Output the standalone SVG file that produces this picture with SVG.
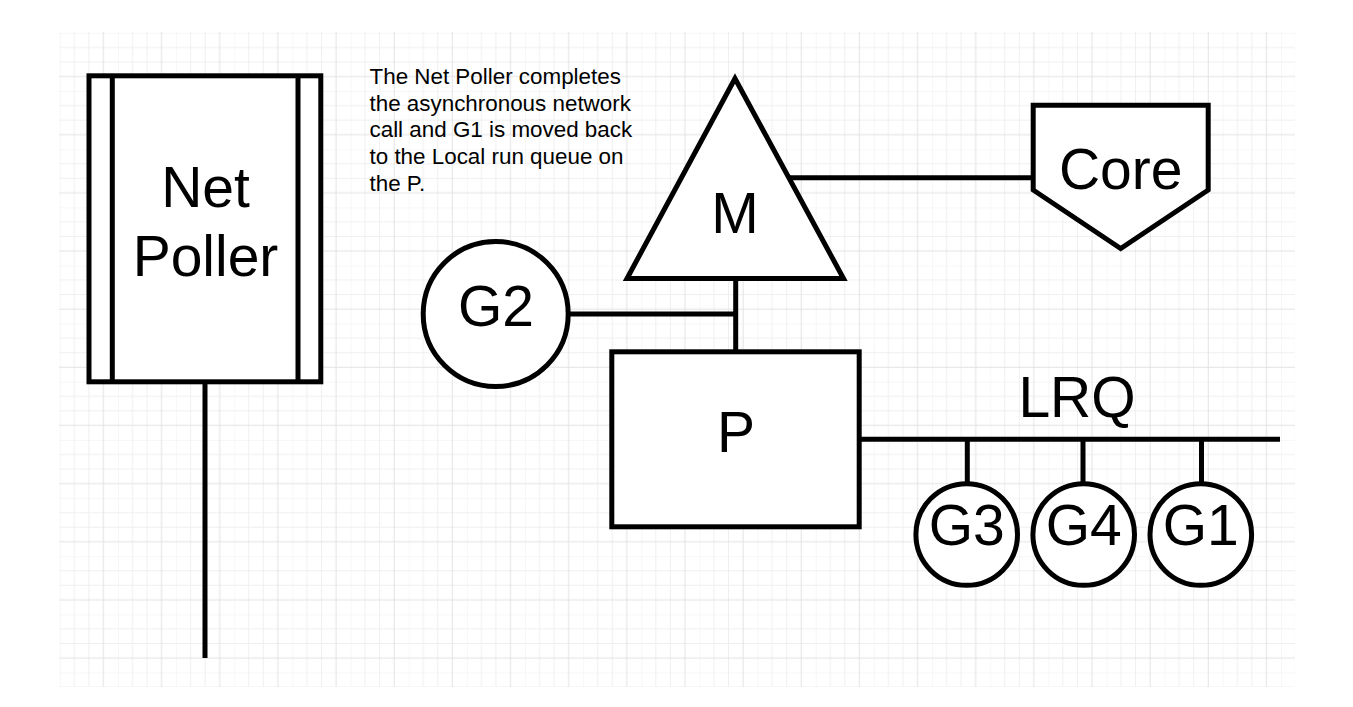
<svg xmlns="http://www.w3.org/2000/svg" width="1353" height="707" viewBox="0 0 1353 707">
  <defs>
    <pattern id="grid" patternUnits="userSpaceOnUse" x="59.8" y="32.9" width="58.15" height="58.15">
      <path d="M0 0V58.15M14.54 0V58.15M29.08 0V58.15M0 0H58.15M0 14.54H58.15M0 29.08H58.15" stroke="#efefef" stroke-width="1" fill="none"/>
      <path d="M43.61 0V58.15M0 43.61H58.15" stroke="#e2e2e2" stroke-width="1" fill="none"/>
    </pattern>
    <style>
      .shape { fill: #ffffff; stroke: #000000; stroke-width: 5; stroke-linejoin: miter; }
      .line { fill: none; stroke: #000000; stroke-width: 5; }
      .big { font-family: "Liberation Sans", Arial, sans-serif; font-size: 57px; fill: #000000; text-anchor: middle; }
      .note { font-family: "Liberation Sans", Arial, sans-serif; font-size: 22.4px; fill: #000000; }
    </style>
  </defs>
  <rect x="0" y="0" width="1353" height="707" fill="#ffffff"/>
  <rect x="59" y="32" width="1236" height="655" fill="url(#grid)"/>

  <g id="connectors">
    <line class="line" x1="205" y1="382" x2="205" y2="658"/>
    <line class="line" x1="789" y1="177.7" x2="1033" y2="177.7"/>
    <line class="line" x1="735.7" y1="278" x2="735.7" y2="352"/>
    <line class="line" x1="570" y1="314" x2="735.7" y2="314"/>
    <line class="line" x1="859" y1="439.3" x2="1280" y2="439.3"/>
    <line class="line" x1="967.3" y1="439.3" x2="967.3" y2="484"/>
    <line class="line" x1="1083" y1="439.3" x2="1083" y2="484"/>
    <line class="line" x1="1201.5" y1="439.3" x2="1201.5" y2="484"/>
  </g>

  <g id="net-poller">
    <rect class="shape" x="89" y="75.8" width="231.8" height="306"/>
    <line class="line" x1="112.3" y1="75.8" x2="112.3" y2="381.8"/>
    <line class="line" x1="298" y1="75.8" x2="298" y2="381.8"/>
    <text class="big" x="205.5" y="207">Net</text>
    <text class="big" x="205.5" y="276">Poller</text>
  </g>

  <g id="note">
    <text class="note" x="369.5" y="84">The Net Poller completes</text>
    <text class="note" x="369.5" y="110.7">the asynchronous network</text>
    <text class="note" x="369.5" y="137.3">call and G1 is moved back</text>
    <text class="note" x="369.5" y="164">to the Local run queue on</text>
    <text class="note" x="369.5" y="190.7">the P.</text>
  </g>

  <g id="m">
    <polygon class="shape" points="735,78.5 627,278.5 843.5,278.5"/>
    <text class="big" x="735" y="233">M</text>
  </g>

  <g id="core">
    <polygon class="shape" points="1033.2,105.2 1208.2,105.2 1208.2,190 1120.7,248.5 1033.2,190"/>
    <text class="big" x="1120.7" y="189">Core</text>
  </g>

  <g id="g2">
    <circle class="shape" cx="495.7" cy="314" r="72.5"/>
    <text class="big" x="496" y="326">G2</text>
  </g>

  <g id="p">
    <rect class="shape" x="611.8" y="351.8" width="247.4" height="175"/>
    <text class="big" x="736" y="452">P</text>
  </g>

  <g id="lrq">
    <text class="big" x="1077" y="417">LRQ</text>
  </g>

  <g id="g3">
    <circle class="shape" cx="966.7" cy="534.5" r="50.8"/>
    <text class="big" x="966.7" y="545">G3</text>
  </g>
  <g id="g4">
    <circle class="shape" cx="1083.7" cy="534.5" r="50.8"/>
    <text class="big" x="1083.7" y="545">G4</text>
  </g>
  <g id="g1">
    <circle class="shape" cx="1200.8" cy="534.5" r="50.8"/>
    <text class="big" x="1200.8" y="545">G1</text>
  </g>
</svg>
